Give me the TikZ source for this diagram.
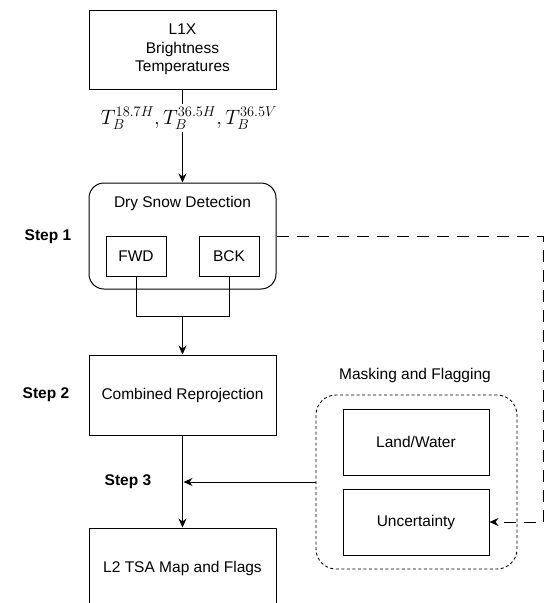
\documentclass[tikz,border=0pt]{standalone}
\usepackage{fontspec}
\setmainfont{Liberation Sans}
\usetikzlibrary{arrows.meta,positioning}
\begin{document}
\begin{tikzpicture}[x=1pt,y=-1pt,
  every node/.style={font=\fontsize{15.5}{18.5}\selectfont, inner sep=0pt, align=center},
  box/.style={draw, line width=1pt, minimum width=187pt, minimum height=80pt},
  small/.style={draw, line width=1pt, minimum width=60pt, minimum height=40pt},
  mbox/.style={draw, line width=1pt, minimum width=146pt, minimum height=66pt},
  conn/.style={line width=1pt},
  arr/.style={line width=1pt, -{Stealth[length=9pt,width=8pt,inset=3pt]}},
  steplbl/.style={font=\fontsize{15.5}{18.5}\selectfont\bfseries}
]
\useasboundingbox (0,0) rectangle (549,603);
\clip (0,0) rectangle (549,603);
% main chain
\node[box, minimum height=79pt] (top) at (182.5,49.5) {L1X\\Brightness\\Temperatures};
\node[draw, line width=1pt, rounded corners=15pt, minimum width=187pt, minimum height=106pt] (dry) at (182.5,236) {};
\node (drylbl) at (182.5,203) {Dry Snow Detection};
\node[small] (fwd) at (136,256) {FWD};
\node[small] (bck) at (229,256) {BCK};
\node[box] (comb) at (182.5,395) {Combined Reprojection};
\node[box] (l2) at (182.5,568) {L2 TSA Map and Flags};
% step labels
\node[steplbl] (s1) at (48,237) {Step 1};
\node[steplbl] (s2) at (46,395) {Step 2};
\node[steplbl] (s3) at (128,482) {Step 3};
% masking group
\node[draw, line width=0.9pt, dash pattern=on 3pt off 2.5pt, rounded corners=20pt, minimum width=201pt, minimum height=174pt] (mask) at (416.5,482) {};
\node (masklbl) at (415,375) {Masking and Flagging};
\node[mbox] (land) at (416,442) {Land/Water};
\node[mbox] (unc) at (416,522) {Uncertainty};
% connectors
\draw[arr] (top.south) -- (dry.north);
\node[fill=white, inner sep=3pt, font=\fontsize{20}{23}\selectfont] (tb) at (189,118) {$T_B^{18.7H},T_B^{36.5H},T_B^{36.5V}$};
\coordinate (join) at (182.5,316);
\draw[conn] (fwd.south) |- (bck.south |- join) -- (bck.south);
\draw[arr] (join) -- (comb.north);
\draw[arr] (comb.south) -- (l2.north);
\coordinate (s3pt) at (183.5,482);
\draw[arr] (mask.west) -- (s3pt);
\coordinate (dc1) at (543,236);
\coordinate (dc2) at (543,522);
\draw[line width=1pt, dash pattern=on 12pt off 8pt, -{Stealth[length=9pt,width=8pt,inset=3pt]}] (dry.east) -- (dc1) -- (dc2) -- (unc.east);
\end{tikzpicture}
\end{document}
